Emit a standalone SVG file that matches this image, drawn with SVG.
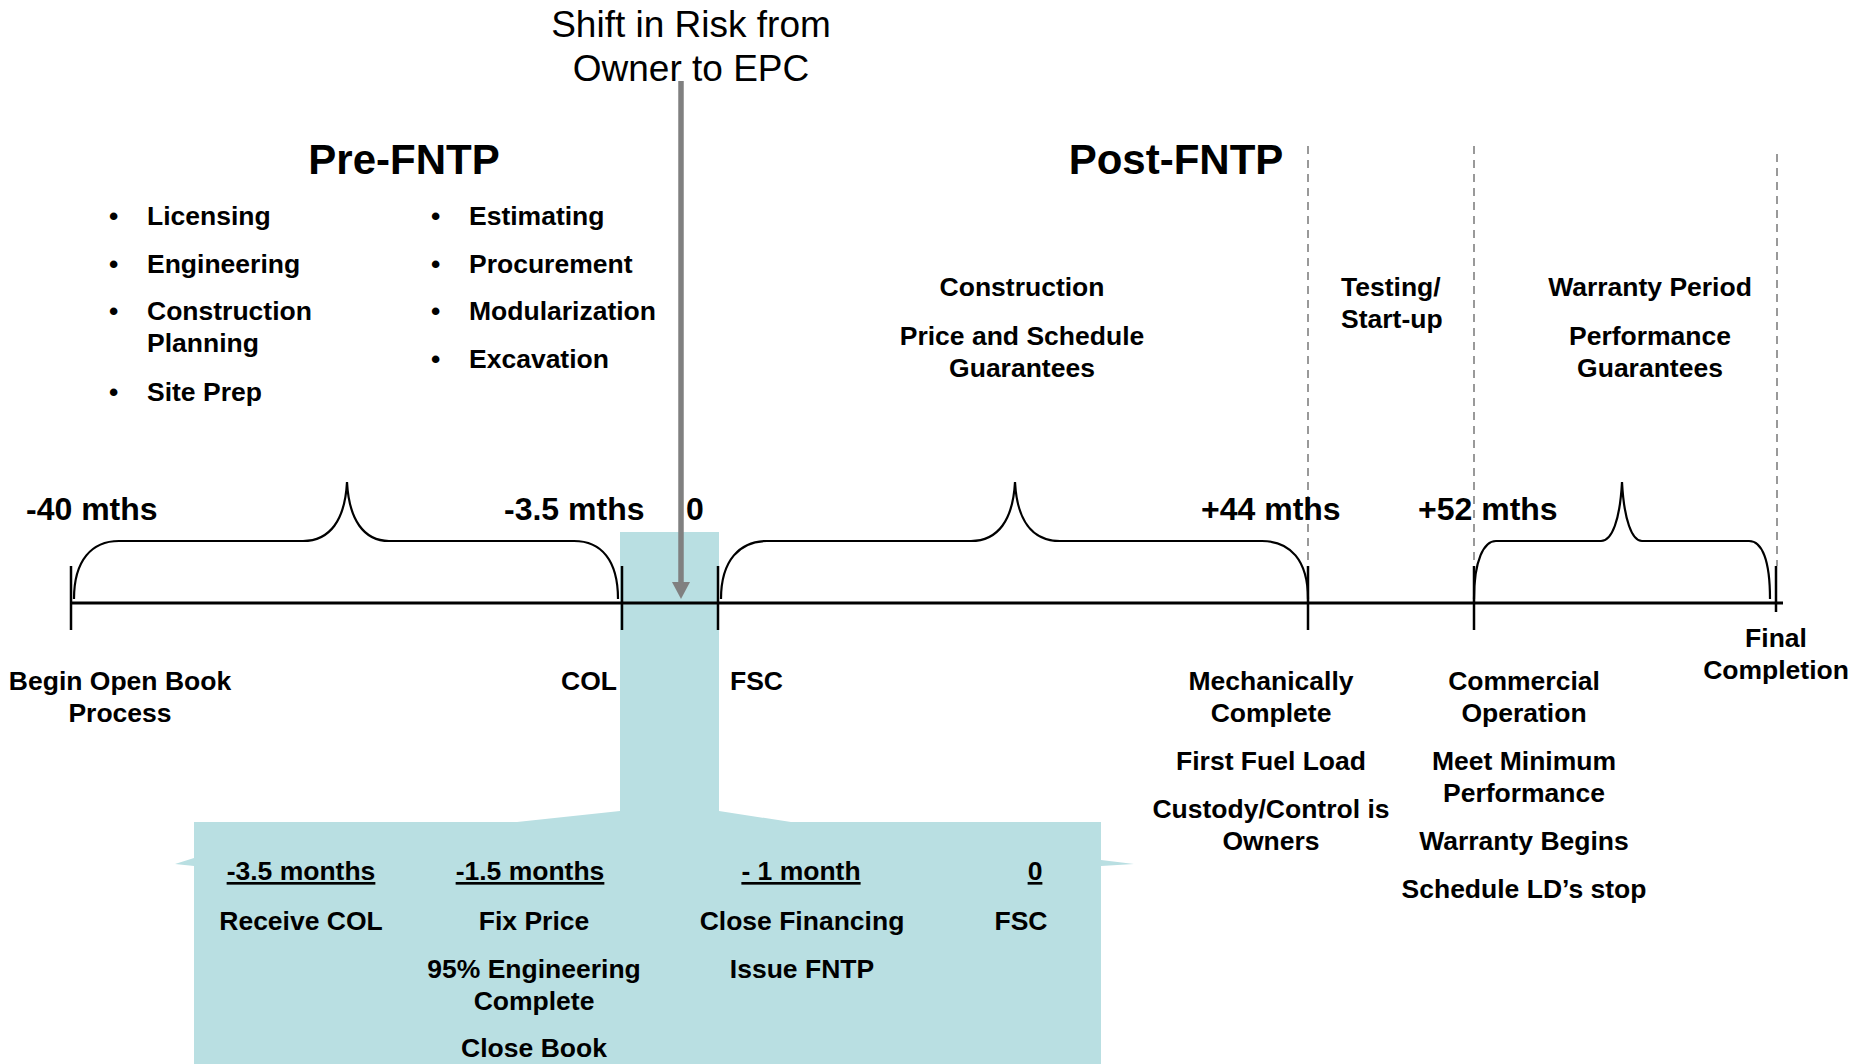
<svg xmlns="http://www.w3.org/2000/svg" width="1864" height="1064" viewBox="0 0 1864 1064">
<defs>
<style>
text{font-family:"Liberation Sans",Arial,sans-serif;fill:#000}
.b{font-weight:bold;font-size:26.5px}
.m{font-weight:bold;font-size:32px}
.h{font-weight:bold;font-size:42px}
.t{font-size:37px}
.c{text-anchor:middle}
.u{text-decoration:underline}
.tl{stroke:#000;stroke-width:3;fill:none}
.tk{stroke:#000;stroke-width:2.5;fill:none}
.br{stroke:#000;stroke-width:2.2;fill:none}
.dash{stroke:#999;stroke-width:2;stroke-dasharray:8 6;fill:none}
</style>
<marker id="ah" viewBox="0 0 17 18" refX="0" refY="9" markerWidth="17" markerHeight="18" markerUnits="userSpaceOnUse" orient="auto">
<path d="M0 0 L17 9 L0 18 Z" fill="#808080"/>
</marker>
</defs>
<rect width="1864" height="1064" fill="#fff"/>

<g id="zoom-callout">
<polygon fill="#B9DFE2" points="620,532 719,532 719,811 791,822 1101,822 1101,860 1134,864 1101,866 1101,1064 194,1064 194,866 175,864 194,858 194,822 517,822 620,811"/>
</g>

<g id="timeline">
<line class="tl" x1="71" y1="603" x2="1783" y2="603"/>
<line class="tk" x1="71" y1="566" x2="71" y2="630"/>
<line class="tk" x1="622" y1="566" x2="622" y2="630"/>
<line class="tk" x1="718" y1="566" x2="718" y2="630"/>
<line class="tk" x1="1308" y1="566" x2="1308" y2="630"/>
<line class="tk" x1="1474" y1="566" x2="1474" y2="630"/>
<line class="tk" x1="1776" y1="566" x2="1776" y2="612"/>
<line class="dash" x1="1308" y1="146" x2="1308" y2="566"/>
<line class="dash" x1="1474" y1="146" x2="1474" y2="566"/>
<line class="dash" x1="1777" y1="154" x2="1777" y2="566"/>
</g>

<g id="braces">
<path class="br" d="M74 599 C74 560 92 541 119 541 L303 541 C330 541 345 520 347 482 C349 520 364 541 389 541 L574 541 C601 541 618 560 618 599"/>
<path class="br" d="M721 599 C721 560 740 541 767 541 L971 541 C998 541 1013 520 1015 482 C1017 520 1032 541 1060 541 L1262 541 C1290 541 1308 560 1308 599"/>
<path class="br" d="M1474 599 C1474 560 1484 541 1496 541 L1601 541 C1612 541 1620 520 1622 482 C1624 520 1632 541 1642 541 L1749 541 C1762 541 1770 560 1770 599"/>
</g>

<g id="shift-risk">
<text class="t c" x="691" y="37">Shift in Risk from</text>
<text class="t c" x="691" y="81">Owner to EPC</text>
</g>

<g id="connectors">
<line x1="681" y1="81" x2="681" y2="582" stroke="#808080" stroke-width="5.5" marker-end="url(#ah)"/>
</g>

<g id="pre-fntp">
<text class="h c" x="404" y="174">Pre-FNTP</text>
<text class="b" x="109" y="225">•</text><text class="b" x="147" y="225">Licensing</text>
<text class="b" x="109" y="273">•</text><text class="b" x="147" y="273">Engineering</text>
<text class="b" x="109" y="320">•</text><text class="b" x="147" y="320">Construction</text>
<text class="b" x="147" y="352">Planning</text>
<text class="b" x="109" y="401">•</text><text class="b" x="147" y="401">Site Prep</text>
<text class="b" x="431" y="225">•</text><text class="b" x="469" y="225">Estimating</text>
<text class="b" x="431" y="273">•</text><text class="b" x="469" y="273">Procurement</text>
<text class="b" x="431" y="320">•</text><text class="b" x="469" y="320">Modularization</text>
<text class="b" x="431" y="368">•</text><text class="b" x="469" y="368">Excavation</text>
</g>

<g id="post-fntp">
<text class="h c" x="1176" y="174">Post-FNTP</text>
<text class="b c" x="1022" y="296">Construction</text>
<text class="b c" x="1022" y="345">Price and Schedule</text>
<text class="b c" x="1022" y="377">Guarantees</text>
<text class="b" x="1341" y="296">Testing/</text>
<text class="b" x="1341" y="328">Start-up</text>
<text class="b c" x="1650" y="296">Warranty Period</text>
<text class="b c" x="1650" y="345">Performance</text>
<text class="b c" x="1650" y="377">Guarantees</text>
</g>

<g id="time-labels">
<text class="m" x="26" y="520">-40 mths</text>
<text class="m" x="504" y="520">-3.5 mths</text>
<text class="m" x="686" y="520">0</text>
<text class="m" x="1201" y="520">+44 mths</text>
<text class="m" x="1418" y="520">+52 mths</text>
</g>

<g id="milestones">
<text class="b c" x="120" y="690">Begin Open Book</text>
<text class="b c" x="120" y="722">Process</text>
<text class="b" x="617" y="690" text-anchor="end">COL</text>
<text class="b" x="730" y="690">FSC</text>
<text class="b c" x="1271" y="690">Mechanically</text>
<text class="b c" x="1271" y="722">Complete</text>
<text class="b c" x="1271" y="770">First Fuel Load</text>
<text class="b c" x="1271" y="818">Custody/Control is</text>
<text class="b c" x="1271" y="850">Owners</text>
<text class="b c" x="1524" y="690">Commercial</text>
<text class="b c" x="1524" y="722">Operation</text>
<text class="b c" x="1524" y="770">Meet Minimum</text>
<text class="b c" x="1524" y="802">Performance</text>
<text class="b c" x="1524" y="850">Warranty Begins</text>
<text class="b c" x="1524" y="898">Schedule LD’s stop</text>
<text class="b c" x="1776" y="647">Final</text>
<text class="b c" x="1776" y="679">Completion</text>
</g>

<g id="detail">
<text class="b c u" x="301" y="880">-3.5 months</text>
<text class="b c" x="301" y="930">Receive COL</text>
<text class="b c u" x="530" y="880">-1.5 months</text>
<text class="b c" x="534" y="930">Fix Price</text>
<text class="b c" x="534" y="978">95% Engineering</text>
<text class="b c" x="534" y="1010">Complete</text>
<text class="b c" x="534" y="1057">Close Book</text>
<text class="b c u" x="801" y="880">- 1 month</text>
<text class="b c" x="802" y="930">Close Financing</text>
<text class="b c" x="802" y="978">Issue FNTP</text>
<text class="b c u" x="1035" y="880">0</text>
<text class="b c" x="1021" y="930">FSC</text>
</g>
</svg>
